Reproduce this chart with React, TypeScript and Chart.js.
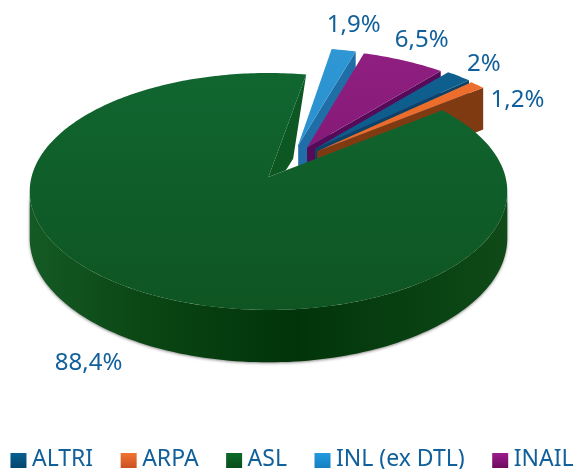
import React, { useEffect, useRef } from "react";
import { Chart, registerables } from "chart.js";

Chart.register(...registerables);

const categories = ["ALTRI", "ARPA", "ASL", "INL (ex DTL)", "INAIL"];
const shares = [2, 1.2, 88.4, 1.9, 6.5];

const topColors = ["#10608f", "#ee6f2d", "#116630", "#2f97d4", "#8f1f80"];
const topColorsEnd = ["#0c5a8a", "#ea6a28", "#0e5522", "#2a8fcf", "#861a78"];
const wallColors = ["#0a4268", "#7f3a12", "#0c5722", "#1f6ea8", "#560a58"];
const swatchTop = ["#0a5f8f", "#f27233", "#0c6a2a", "#239ade", "#9c1c8e"];
const swatchBottom = ["#03466f", "#c95122", "#084e1c", "#1580c2", "#6d0a60"];
const explodePercent = [32, 31, 0, 31, 31];
const explodeTurn = [-5, -7, 0, 11, 4];
const labelShift = [[25, -12], [40, 15], [-43, 75], [10, -25], [18, -20]];

const TEXT = "#11609b";
const FONT = '"Noto Sans", sans-serif';
const CX = 268.5, CY = 177, SX = 237, SY = 116.7, PERSP = -0.122, DEPTH = 46;

const project = (u: number, v: number): [number, number, number] => {
  const w = 1 + PERSP * v;
  return [CX + (SX * u) / w, CY + (SY * v) / w, w];
};

const pie3d = {
  id: "pie3d",
  beforeDatasetsDraw(chart: any) {
    const { ctx } = chart;
    const arcs = chart.getDatasetMeta(0).data;
    const info = arcs.map((a: any, i: number) => {
      const mid = (a.startAngle + a.endAngle) / 2 + (explodeTurn[i] * Math.PI) / 180;
      const off = (a.options.offset || 0) / 100;
      return { a, i, ou: Math.cos(mid) * off, ov: Math.sin(mid) * off };
    });
    const rim = (s: any, ang: number) => project(s.ou + Math.cos(ang), s.ov + Math.sin(ang));

    // back to front: INL, INAIL, ALTRI, ARPA, ASL
    const order = [3, 4, 0, 1, 2];
    for (const idx of order) {
      const s = info[idx];
      const { a, i } = s;
      const apex = project(s.ou, s.ov);
      const span = a.endAngle - a.startAngle;
      const steps = Math.max(4, Math.ceil((span * 180) / Math.PI));
      const endR = rim(s, a.endAngle);
      const startR = rim(s, a.startAngle);

      // radial wall on the clockwise edge
      ctx.fillStyle = wallColors[i];
      ctx.beginPath();
      if (span < Math.PI) {
        ctx.moveTo(endR[0], endR[1]);
        ctx.lineTo(apex[0], apex[1]);
        ctx.lineTo(apex[0], apex[1] + DEPTH / apex[2]);
        ctx.lineTo(endR[0], endR[1] + DEPTH / endR[2]);
      } else {
        const ex = endR[0] - apex[0], ey = endR[1] - apex[1];
        const sx = startR[0] - apex[0], sy = startR[1] - apex[1];
        ctx.moveTo(endR[0], endR[1]);
        ctx.lineTo(apex[0], apex[1]);
        ctx.lineTo(apex[0] + sx * 0.1, apex[1] + sy * 0.1);
        ctx.lineTo(apex[0] + ex * 0.1 + sx * 0.12, apex[1] + ey * 0.1 + sy * 0.12);
      }
      ctx.closePath();
      ctx.fill();

      // outer wall, only its forward-facing part
      const from = Math.max(a.startAngle, (7 * Math.PI) / 180);
      const to = Math.min(a.endAngle, (173 * Math.PI) / 180);
      if (to > from) {
        const g = ctx.createLinearGradient(29, 0, 507, 0);
        g.addColorStop(0, "#155a25");
        g.addColorStop(0.25, "#0a4614");
        g.addColorStop(0.55, "#02340a");
        g.addColorStop(0.85, "#0a4313");
        g.addColorStop(1, "#0f4a18");
        ctx.save();
        ctx.shadowColor = "rgba(0,0,0,0.45)";
        ctx.shadowBlur = 3;
        ctx.shadowOffsetY = 1;
        ctx.fillStyle = g;
        ctx.beginPath();
        const n = 120;
        for (let k = 0; k <= n; k++) {
          const p = rim(s, from + ((to - from) * k) / n);
          if (k === 0) ctx.moveTo(p[0], p[1]);
          else ctx.lineTo(p[0], p[1]);
        }
        for (let k = n; k >= 0; k--) {
          const p = rim(s, from + ((to - from) * k) / n);
          ctx.lineTo(p[0], p[1] + DEPTH / p[2]);
        }
        ctx.closePath();
        ctx.fill();
        ctx.restore();
      }

      // top face
      const pts: number[][] = [];
      for (let k = 0; k <= steps; k++) pts.push(rim(s, a.startAngle + (span * k) / steps));
      const ys = pts.map((p) => p[1]).concat(apex[1]);
      const grad = ctx.createLinearGradient(0, Math.min(...ys), 0, Math.max(...ys));
      grad.addColorStop(0, a.options.backgroundColor);
      grad.addColorStop(1, topColorsEnd[i]);
      ctx.fillStyle = grad;
      ctx.beginPath();
      ctx.moveTo(apex[0], apex[1]);
      pts.forEach((p) => ctx.lineTo(p[0], p[1]));
      ctx.closePath();
      ctx.fill();
    }

    // value labels
    ctx.save();
    ctx.font = `24px ${FONT}`;
    ctx.fillStyle = TEXT;
    ctx.textAlign = "center";
    ctx.textBaseline = "middle";
    info.forEach((s: any) => {
      const mid = (s.a.startAngle + s.a.endAngle) / 2;
      const p = rim(s, mid);
      ctx.fillText(
        String(shares[s.i]).replace(".", ",") + "%",
        p[0] + labelShift[s.i][0],
        p[1] + labelShift[s.i][1]
      );
    });
    ctx.restore();
    return false;
  },
  afterDraw(chart: any) {
    const { ctx, legend } = chart;
    legend.legendHitBoxes.forEach((h: any, i: number) => {
      const top = Math.round(h.top + h.height / 2 - 6.5);
      const g = ctx.createLinearGradient(0, top, 0, top + 15);
      g.addColorStop(0, swatchTop[i]);
      g.addColorStop(1, swatchBottom[i]);
      ctx.fillStyle = g;
      ctx.fillRect(h.left, top, 16, 15);
    });
  },
};

export default function App() {
  const ref = useRef<HTMLCanvasElement>(null);
  useEffect(() => {
    const chart = new Chart(ref.current as HTMLCanvasElement, {
      type: "pie",
      plugins: [pie3d],
      data: {
        labels: categories,
        datasets: [
          {
            data: shares,
            backgroundColor: topColors,
            offset: explodePercent,
            borderWidth: 0,
            hoverOffset: 0,
          },
        ],
      },
      options: {
        responsive: false,
        animation: false,
        events: [],
        rotation: 40.5,
        layout: { padding: { left: -24, right: -34, bottom: -11.5 } },
        plugins: {
          tooltip: { enabled: false },
          legend: {
            position: "bottom",
            labels: {
              boxWidth: 10,
              boxHeight: 15,
              padding: 27.5,
              color: TEXT,
              font: { family: FONT, size: 23 },
              generateLabels: () =>
                categories.map((c, i) => ({
                  text: c,
                  fillStyle: "rgba(0,0,0,0)",
                  strokeStyle: "rgba(0,0,0,0)",
                  lineWidth: 0,
                  hidden: false,
                  index: i,
                  fontColor: TEXT,
                })),
            },
          },
        },
      },
    } as any);
    return () => chart.destroy();
  }, []);
  return (
    <div style={{ position: "fixed", left: 0, top: 0, width: 574, height: 469 }}>
      <canvas ref={ref} width={574} height={469} style={{ display: "block" }} />
    </div>
  );
}
